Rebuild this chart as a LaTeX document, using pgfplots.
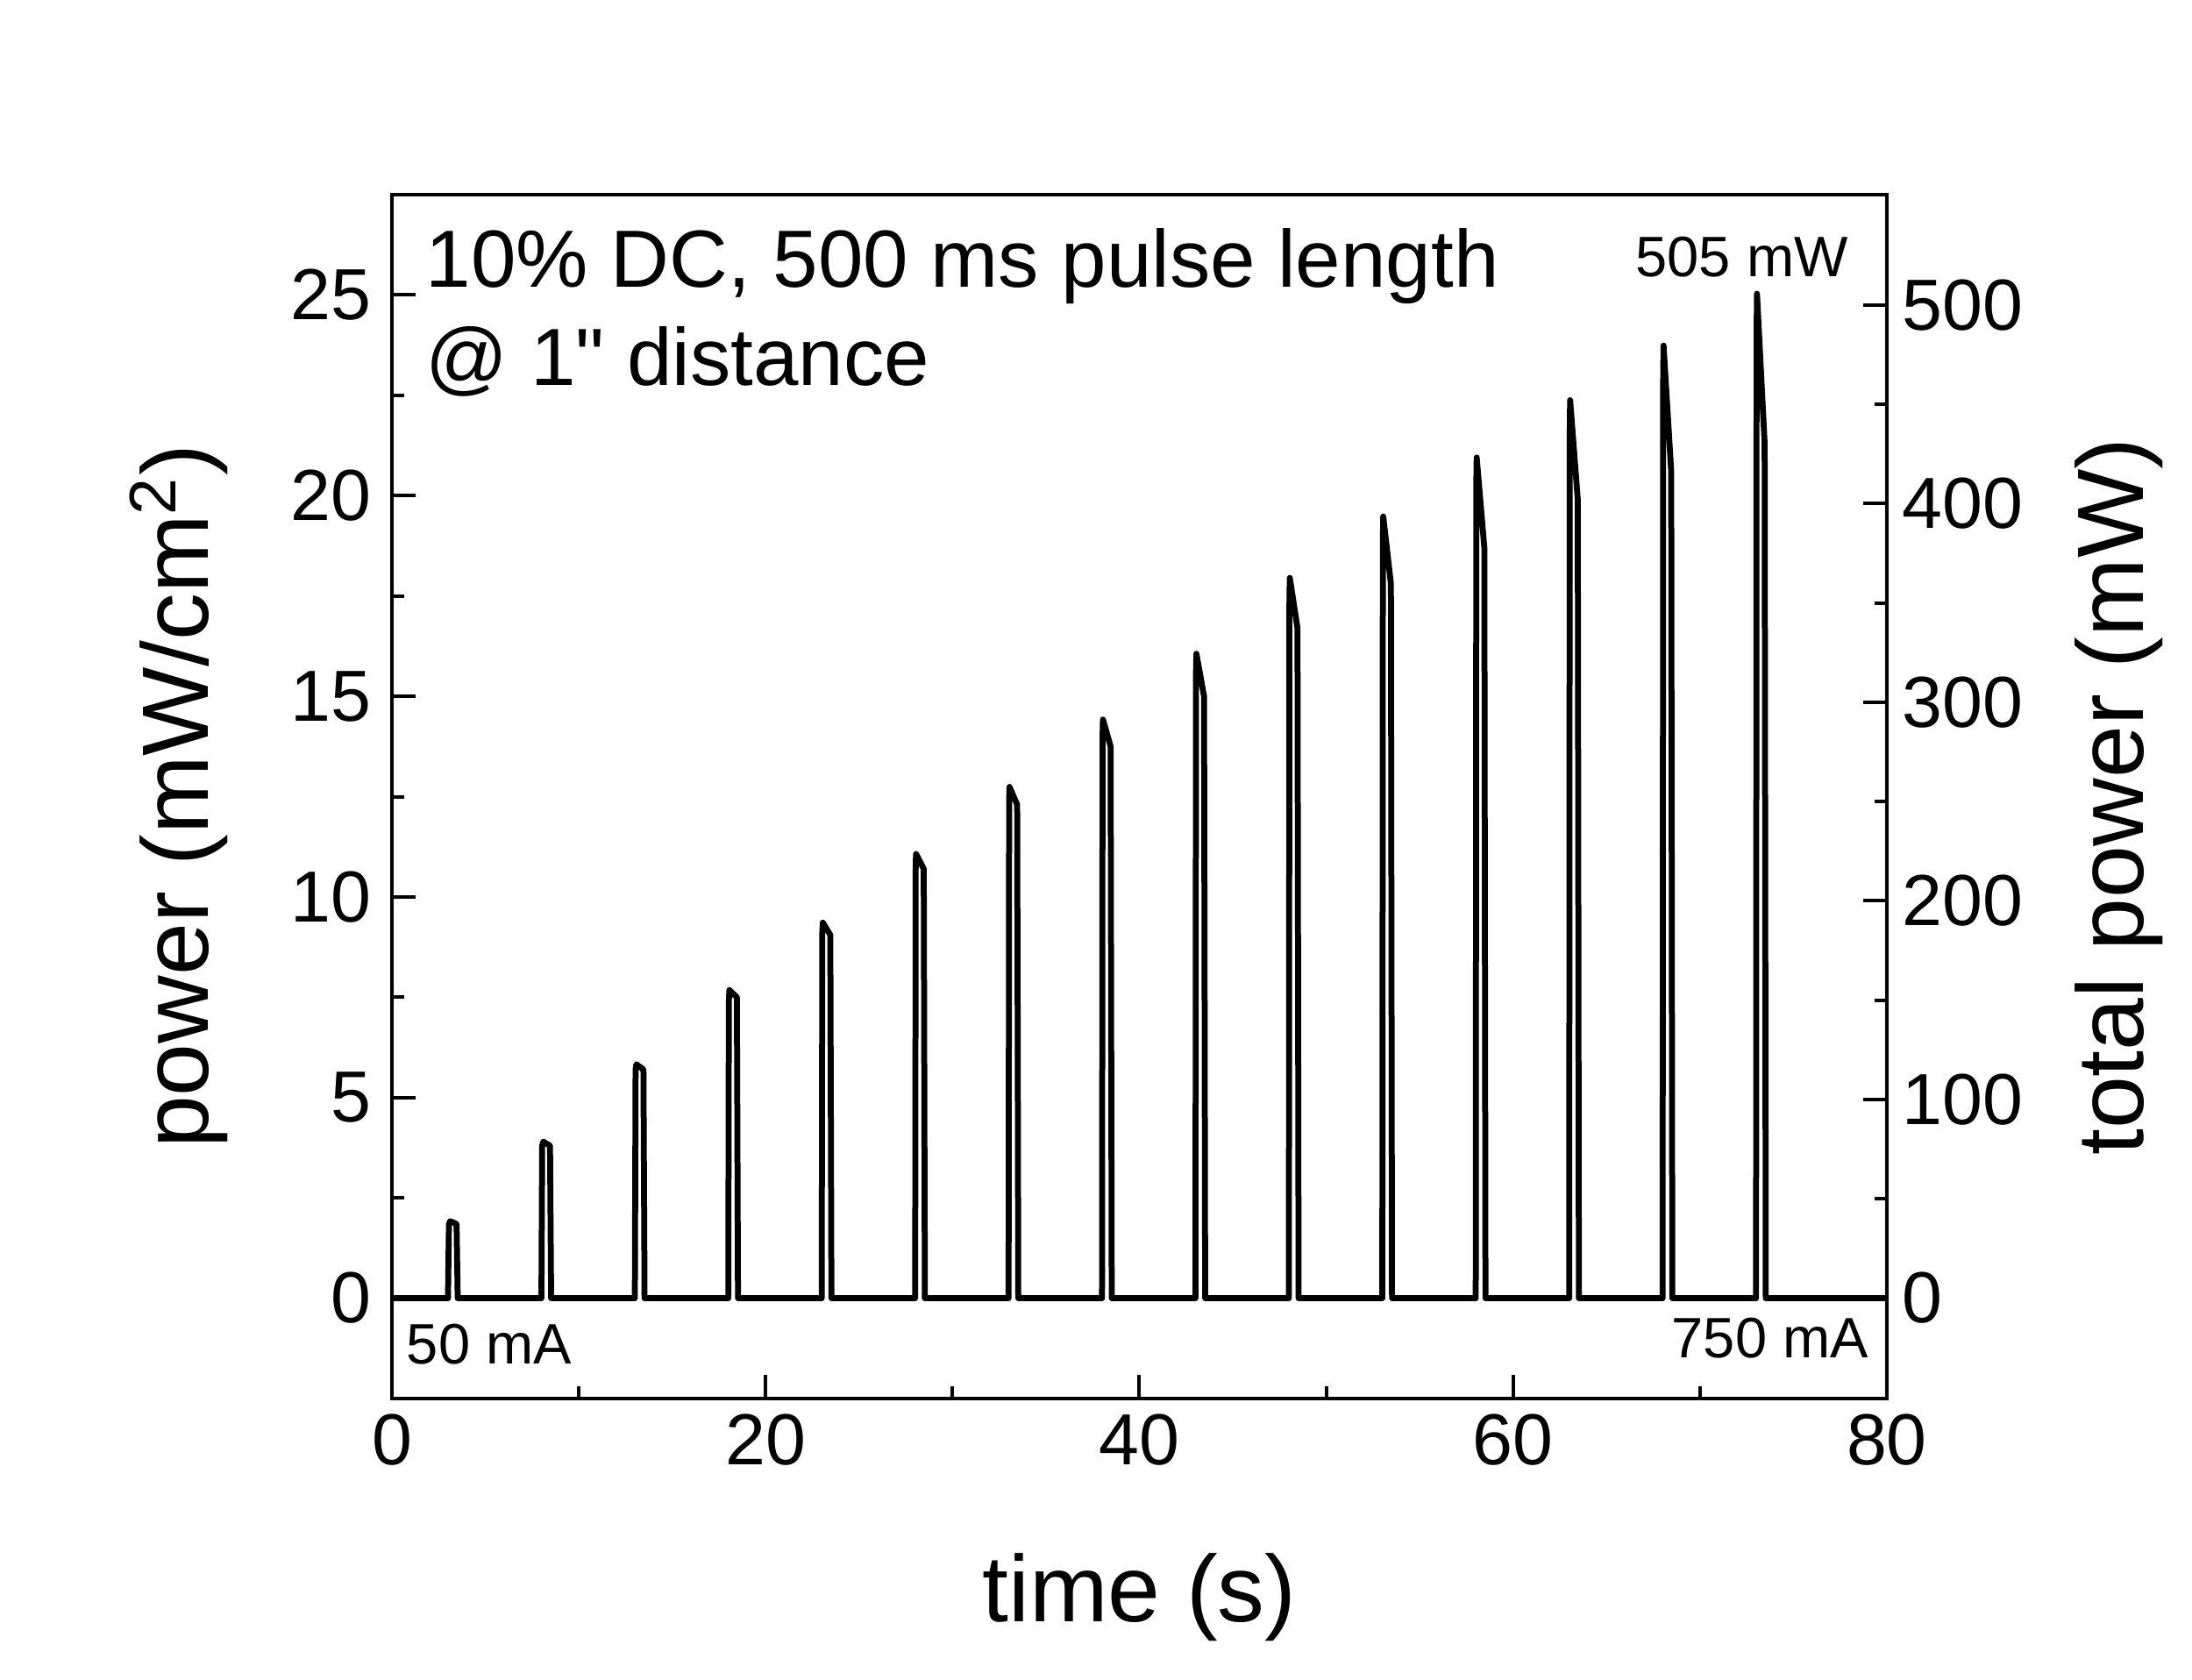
\documentclass[border=0pt]{standalone}
\usepackage{fontspec}
\setmainfont{Liberation Sans}[Ligatures=TeXOff]
\usepackage{pgfplots}
\usepackage{pgfplotstable}
\pgfplotsset{compat=1.18}
\pgfplotstableread{
t P
0 0
3.00 0
3.05 1.85
3.12 1.92
3.46 1.85
3.52 0
8.00 0
8.04 3.80
8.10 3.90
8.46 3.80
8.52 0
13.00 0
13.04 5.70
13.08 5.83
13.46 5.70
13.52 0
18.00 0
18.03 7.40
18.06 7.68
18.46 7.50
18.52 0
23.00 0
23.03 9.10
23.06 9.36
23.46 9.05
23.52 0
28.00 0
28.03 10.80
28.05 11.07
28.46 10.70
28.52 0
33.00 0
33.03 12.40
33.05 12.74
33.46 12.30
33.52 0
38.00 0
38.03 14.00
38.05 14.42
38.46 13.75
38.52 0
43.00 0
43.03 15.60
43.05 16.06
43.46 15.00
43.52 0
48.00 0
48.03 17.40
48.05 17.95
48.46 16.70
48.52 0
53.00 0
53.03 18.90
53.05 19.48
53.46 17.80
53.52 0
58.00 0
58.03 20.30
58.05 20.95
58.46 18.70
58.52 0
63.00 0
63.03 21.60
63.05 22.38
63.46 19.90
63.52 0
68.00 0
68.03 22.90
68.05 23.74
68.46 20.60
68.52 0
73.00 0
73.03 24.10
73.05 25.03
73.46 21.30
73.52 0
80 0
}\pulsedata
\begin{document}
\begin{tikzpicture}
\useasboundingbox (-89.4pt,-64pt) rectangle (410.6pt,319pt);
\begin{axis}[
  scale only axis, width=341pt, height=274.6pt,
  xmin=0, xmax=80, ymin=-2.5, ymax=27.5,
  xtick={0,20,...,80}, ytick={0,5,...,25},
  minor x tick num=1, minor y tick num=1,
  tick pos=left, tick align=inside,
  major tick length=5.4pt, minor tick length=2.8pt,
  axis line style={line width=0.8pt},
  tick style={line width=0.8pt, black},
  /pgf/number format/assume math mode=true,
  ticklabel style={font=\fontsize{16.5}{19}\selectfont},
  yticklabel style={xshift=-1.2pt},
  label style={font=\fontsize{21.5}{25}\selectfont},
  xlabel={time (s)},
  ylabel={power (mW/cm\textsuperscript{2})},
  xlabel style={at={(axis description cs:0.5,-0.1857)}, anchor=base},
  ylabel style={at={(axis description cs:-0.1226,0.5)}, anchor=base},
]
\addplot[black, line width=1.35pt, line join=round] table[x=t, y=P] {\pulsedata};
\node[anchor=base west, font=\fontsize{18.5}{22}\selectfont, inner sep=0pt] at (axis cs:1.78,25.2) {10\% DC, 500 ms pulse length};
\node[anchor=base west, font=\fontsize{18.5}{22}\selectfont, inner sep=0pt] at (axis cs:1.78,22.75) {@ 1" distance};
\node[anchor=base east, font=\fontsize{13}{15}\selectfont, inner sep=0pt] at (axis cs:77.97,25.46) {505 mW};
\node[anchor=base west, font=\fontsize{13}{15}\selectfont, inner sep=0pt] at (axis cs:0.75,-1.64) {50 mA};
\node[anchor=base east, font=\fontsize{13}{15}\selectfont, inner sep=0pt] at (axis cs:79.05,-1.48) {750 mA};
\end{axis}
\begin{axis}[
  scale only axis, width=341pt, height=274.6pt,
  xmin=0, xmax=80, ymin=-50.5, ymax=555.5,
  axis x line=none, axis y line*=right,
  ytick={0,100,...,500}, minor y tick num=1,
  tick align=inside,
  major tick length=5.4pt, minor tick length=2.8pt,
  axis line style={line width=0.8pt},
  tick style={line width=0.8pt, black},
  /pgf/number format/assume math mode=true,
  ticklabel style={font=\fontsize{16.5}{19}\selectfont},
  label style={font=\fontsize{21.5}{25}\selectfont},
  ylabel={total power (mW)},
  ylabel style={at={(axis description cs:1.1718,0.5)}, anchor=base},
]
\addplot[draw=none, forget plot] coordinates {(0,0) (80,500)};
\end{axis}
\end{tikzpicture}
\end{document}
